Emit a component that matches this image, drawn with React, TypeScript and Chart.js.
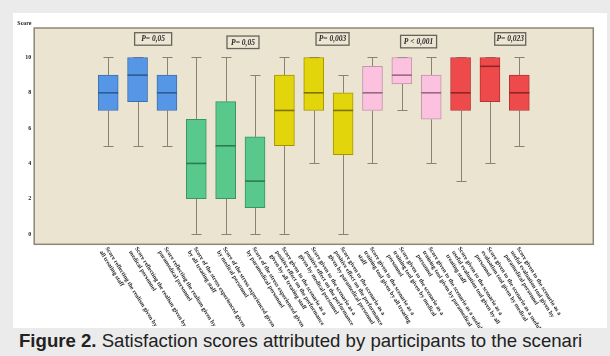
import React, { useEffect, useRef } from "react";
import { Chart, registerables } from "chart.js";

Chart.register(...registerables);

// Category labels (each entry is the wrapped lines of one rotated label)
const categories: string[][] = [
  ["Score reflecting the realism given by", "all treating staff"],
  ["Score reflecting the realism given by", "medical personnel"],
  ["Score reflecting the realism given by", "paramedical personnel"],
  ["Score of the stress experienced given", "by all treating staff"],
  ["Score of the stress experienced given", "by medical personnel"],
  ["Score of the stress experienced given", "by paramedical personnel"],
  ["Score given to the scenario as a", "positive effect on the performance", "given by all treating staff"],
  ["Score given to the scenario as a", "positive effect on the performance", "given by medical personnel"],
  ["Score given to the scenario as a", "positive effect on the performance", "given by paramedical personnel"],
  ["Score given to the scenario as a", "training tool given by all treating", "staff"],
  ["Score given to the scenario as a", "training tool given by medical", "personnel"],
  ["Score given to the scenario as a useful", "training tool given by paramedical", "personnel"],
  ["Score given to the scenario as a", "useful evaluation tool given by all", "treating staff"],
  ["Score given to the scenario as a useful", "evaluation tool given by medical", "personnel"],
  ["Score given to the scenario as a", "useful evaluation tool given by", "paramedical personnel"],
];

// Five-number summaries per category
const lowerWhisker = [5, 5, 5, 0, 0, 0, 0, 4, 0, 4, 7, 4, 3, 4, 5];
const q1 = [7, 7.5, 7, 2, 2, 1.5, 5, 7, 4.5, 7, 8.5, 6.5, 7, 7.5, 7];
const median = [8, 9, 8, 4, 5, 3, 7, 8, 7, 8, 9, 8, 8, 9.5, 8];
const q3 = [9, 10, 9, 6.5, 7.5, 5.5, 9, 10, 8, 9.5, 10, 9, 10, 10, 9];
const upperWhisker = [10, 10, 10, 10, 10, 9, 10, 10, 9, 10, 10, 10, 10, 10, 10];

const yTicks = [0, 2, 4, 6, 8, 10];

// Group p-values and where their boxed labels sit (x in category index, y in score units)
const pValues = ["P= 0,05", "P= 0,05", "P= 0,003", "P < 0,001", "P= 0,023"];
const pLabelX = [1.53, 4.59, 7.64, 10.57, 13.69];
const pLabelY = [11.05, 10.86, 11.05, 10.9, 11.05];
const pBoxWidth = [37, 32, 33, 36, 31];

// Styling
const groupFill = ["#5597e6", "#59c98b", "#e3d50c", "#fbc1df", "#ef4a4b"];
const groupEdge = ["#3e6fae", "#3a9464", "#a39500", "#c294ab", "#b33536"];
const groupMedian = ["#2d5b92", "#2b7b51", "#7f7300", "#98697f", "#922426"];
const PLOT_BG = "#ebe4d0";
const PLOT_BORDER = "#8e8777";
const WHISKER = "#8b8272";
const SERIF = '"Liberation Serif", "DejaVu Serif", serif';
const LABEL_ANGLE = (58 * Math.PI) / 180;

const groupOf = (i: number) => Math.floor(i / 3);

const boxPlotPlugin = {
  id: "boxPlotExtras",
  beforeDatasetsDraw(chart: any) {
    const { ctx, chartArea: a, scales } = chart;
    const x = scales.x;
    const y = scales.y;
    ctx.save();
    ctx.fillStyle = PLOT_BG;
    ctx.fillRect(a.left, a.top, a.right - a.left, a.bottom - a.top);

    // whiskers and caps
    ctx.strokeStyle = WHISKER;
    ctx.lineWidth = 1;
    for (let i = 0; i < categories.length; i++) {
      const px = Math.round(x.getPixelForValue(i)) + 0.5;
      const yLo = Math.round(y.getPixelForValue(lowerWhisker[i])) + 0.5;
      const yHi = Math.round(y.getPixelForValue(upperWhisker[i])) + 0.5;
      const yQ1 = y.getPixelForValue(q1[i]);
      const yQ3 = y.getPixelForValue(q3[i]);
      ctx.beginPath();
      ctx.moveTo(px, yLo);
      ctx.lineTo(px, yQ1);
      ctx.moveTo(px, yQ3);
      ctx.lineTo(px, yHi);
      ctx.moveTo(px - 5, yLo);
      ctx.lineTo(px + 5, yLo);
      ctx.moveTo(px - 5, yHi);
      ctx.lineTo(px + 5, yHi);
      ctx.stroke();
    }
    ctx.restore();
  },
  afterDatasetsDraw(chart: any) {
    const { ctx, chartArea: a, scales } = chart;
    const x = scales.x;
    const y = scales.y;
    ctx.save();

    // medians
    ctx.lineWidth = 1.6;
    for (let i = 0; i < categories.length; i++) {
      const px = x.getPixelForValue(i);
      const py = y.getPixelForValue(median[i]);
      ctx.strokeStyle = groupMedian[groupOf(i)];
      ctx.beginPath();
      ctx.moveTo(px - 10, py);
      ctx.lineTo(px + 10, py);
      ctx.stroke();
    }

    // plot frame
    ctx.strokeStyle = PLOT_BORDER;
    ctx.lineWidth = 1.5;
    ctx.strokeRect(a.left, a.top, a.right - a.left, a.bottom - a.top);

    // boxed p-values
    ctx.font = `italic bold 7.5px ${SERIF}`;
    ctx.textAlign = "center";
    ctx.textBaseline = "middle";
    for (let k = 0; k < pValues.length; k++) {
      const cx = x.getPixelForValue(pLabelX[k]);
      const cy = y.getPixelForValue(pLabelY[k]);
      const w = pBoxWidth[k];
      const h = 12.5;
      ctx.fillStyle = "#ede6d4";
      ctx.fillRect(cx - w / 2, cy - h / 2, w, h);
      ctx.strokeStyle = "#66645a";
      ctx.lineWidth = 1.3;
      ctx.strokeRect(cx - w / 2, cy - h / 2, w, h);
      ctx.fillStyle = "#2a2a2a";
      ctx.fillText(pValues[k], cx, cy + 0.5);
    }

    // rotated category labels
    ctx.fillStyle = "#262626";
    ctx.font = `bold 6px ${SERIF}`;
    ctx.textAlign = "left";
    ctx.textBaseline = "top";
    for (let i = 0; i < categories.length; i++) {
      const px = x.getPixelForValue(i) + 1;
      ctx.save();
      ctx.translate(px, a.bottom + 1.5);
      ctx.rotate(LABEL_ANGLE);
      categories[i].forEach((line, j) => ctx.fillText(line, 0, j * 7));
      ctx.restore();
    }

    // axis title
    ctx.fillStyle = "#222";
    ctx.font = `bold 6px ${SERIF}`;
    ctx.textAlign = "left";
    ctx.textBaseline = "middle";
    ctx.fillText("Score", 4.3, 10);
    ctx.restore();
  },
};

export default function App() {
  const canvasRef = useRef<HTMLCanvasElement | null>(null);

  useEffect(() => {
    if (!canvasRef.current) return;
    const chart = new Chart(canvasRef.current, {
      type: "bar",
      data: {
        datasets: [
          {
            data: q1.map((v, i) => ({ x: i, y: [v, q3[i]] })) as any,
            backgroundColor: q1.map((_, i) => groupFill[groupOf(i)]),
            borderColor: q1.map((_, i) => groupEdge[groupOf(i)]),
            borderWidth: 1,
            borderSkipped: false,
            barThickness: 20,
          },
        ],
      },
      options: {
        animation: false,
        responsive: false,
        events: [],
        layout: { padding: { left: 0, top: 15, right: 13.7, bottom: 83.7 } },
        plugins: { legend: { display: false }, tooltip: { enabled: false } },
        scales: {
          x: {
            type: "linear",
            display: false,
            min: -1.33,
            max: 15.33,
          },
          y: {
            min: -0.58,
            max: 11.67,
            afterFit: (scale: any) => {
              scale.width = 21.2;
            },
            afterBuildTicks: (scale: any) => {
              scale.ticks = yTicks.map((v) => ({ value: v }));
            },
            grid: { display: false, drawTicks: false },
            border: { display: false },
            ticks: {
              padding: 3,
              color: "#222",
              font: { family: SERIF, size: 6, weight: "bold" },
            },
          },
        },
      },
      plugins: [boxPlotPlugin],
    });
    return () => chart.destroy();
  }, []);

  return (
    <div
      style={{
        position: "absolute",
        left: 0,
        top: 0,
        width: 610,
        height: 356,
        background: "#ebebeb",
        overflow: "hidden",
      }}
    >
      <div
        style={{
          position: "absolute",
          left: 13,
          top: 13,
          width: 594,
          height: 315,
          background: "#ffffff",
        }}
      >
        <canvas ref={canvasRef} width={594} height={315} style={{ display: "block" }} />
      </div>
      <div
        style={{
          position: "absolute",
          left: 19,
          top: 331,
          fontFamily: '"Liberation Sans", Arial, sans-serif',
          fontSize: 18.6,
          lineHeight: "20px",
          color: "#222",
          whiteSpace: "nowrap",
        }}
      >
        <b>Figure 2.</b> Satisfaction scores attributed by participants to the scenari
      </div>
    </div>
  );
}
